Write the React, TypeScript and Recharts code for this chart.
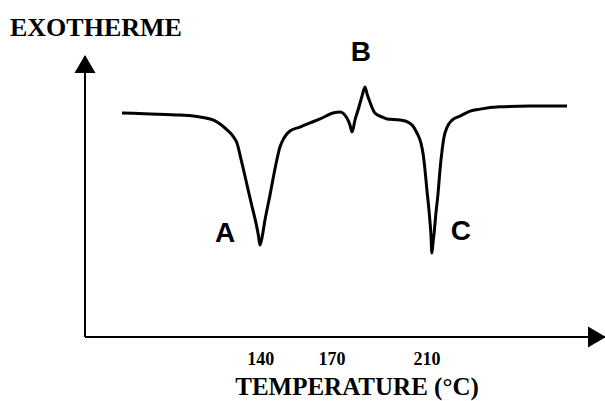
import React from 'react';
import { LineChart, Line, XAxis, YAxis, ReferenceDot } from 'recharts';

// DSC thermogram: temperature (°C) vs heat flow (arbitrary units, exotherm up)
const temperatures = [
  81.6, 93.4, 106.0, 114.4, 120.8, 125.8, 128.3, 130.0, 131.7, 133.0, 134.6, 136.3, 138.0, 139.0,
  139.7, 140.5, 141.8, 143.9, 146.0, 148.1, 149.8, 152.3, 156.5, 160.8, 165.0, 170.4, 173.4, 176.3,
  177.6, 178.5, 179.7, 181.0, 182.7, 183.9, 184.8, 186.0, 188.1, 191.1, 193.2, 198.7, 202.0, 204.1,
  205.8, 207.5, 208.4, 209.2, 210.0, 210.9, 211.7, 212.1, 212.6, 213.0, 213.8, 214.7, 215.5, 216.4,
  217.2, 218.5, 220.6, 223.9, 228.2, 232.4, 240.8, 253.4, 269.0,
];
const heatFlow = [
  79.7, 79.4, 79.0, 78.3, 76.9, 73.7, 71.5, 69.0, 63.3, 58.7, 52.7, 46.6, 40.6, 36.3,
  32.7, 35.2, 41.6, 50.5, 59.8, 67.6, 70.8, 73.3, 74.7, 76.2, 77.6, 79.7, 80.1, 77.9,
  75.4, 73.0, 77.2, 80.8, 85.8, 89.0, 86.5, 83.6, 79.7, 78.3, 77.6, 77.2, 76.5, 75.1,
  72.6, 69.0, 65.1, 59.4, 52.3, 44.8, 36.3, 29.9, 33.8, 36.7, 44.1, 51.2, 59.4, 66.5,
  71.2, 74.7, 77.2, 78.6, 80.4, 81.1, 81.9, 82.2, 82.2,
];
const xTicks = [140, 170, 210];
const xDomain = [66, 285];
const yDomain = [0, 100];

// Peak annotations
const peakNames = ['A', 'B', 'C'];
const peakTemps = [139.7, 183.9, 212.1];
const peakValues = [32.7, 89.0, 29.9];
const peakLabelDx = [-35, -4, 29];
const peakLabelDy = [-13, -35, -22];

const data = temperatures.map((t, i) => ({ t, v: heatFlow[i] }));

const SERIF = "'Liberation Serif', 'Times New Roman', Times, serif";
const SANS = "'Liberation Sans', Arial, Helvetica, sans-serif";

const XTick = (props: any) => {
  const { x, y, payload } = props;
  return (
    <text x={x} y={y + 28} textAnchor="middle" fontFamily={SERIF} fontWeight="bold" fontSize={18} fill="#000">
      {payload.value}
    </text>
  );
};

export default function App() {
  return (
    <div style={{ position: 'absolute', left: 0, top: 0 }}>
      <LineChart width={605} height={401} data={data} margin={{ top: 56, right: 0, bottom: 0, left: 84 }}>
        <defs>
          <marker
            id="arrowHead"
            markerWidth={18}
            markerHeight={21}
            refX={17}
            refY={10.5}
            orient="auto-start-reverse"
            markerUnits="userSpaceOnUse"
            style={{ overflow: 'visible' }}
          >
            <path d="M0,0 L18,10.5 L0,21 Z" fill="#000" />
          </marker>
        </defs>
        <XAxis
          type="number"
          dataKey="t"
          domain={xDomain}
          ticks={xTicks}
          allowDataOverflow
          height={64}
          tickLine={false}
          tickSize={0}
          tickMargin={0}
          tick={<XTick />}
          axisLine={{ stroke: '#000', strokeWidth: 2, markerEnd: 'url(#arrowHead)' } as any}
          label={{
            content: (p: any) => {
              const vb = p.viewBox;
              return (
                <text
                  x={vb.x + vb.width / 2 + 12}
                  y={vb.y + 58}
                  textAnchor="middle"
                  fontFamily={SERIF}
                  fontWeight="bold"
                  fontSize={25}
                  fill="#000"
                >
                  TEMPERATURE (°C)
                </text>
              );
            },
          } as any}
        />
        <YAxis
          type="number"
          domain={yDomain}
          width={1}
          tick={false}
          tickLine={false}
          axisLine={{ stroke: '#000', strokeWidth: 2, markerStart: 'url(#arrowHead)' } as any}
          label={{
            content: (p: any) => {
              const vb = p.viewBox;
              return (
                <text x={vb.x - 74} y={vb.y - 20} fontFamily={SERIF} fontWeight="bold" fontSize={26} fill="#000">
                  EXOTHERME
                </text>
              );
            },
          } as any}
        />
        <Line
          type="monotone"
          dataKey="v"
          stroke="#000"
          strokeWidth={3}
          dot={false}
          activeDot={false}
          isAnimationActive={false}
        />
        {peakNames.map((name, i) => (
          <ReferenceDot
            key={name}
            x={peakTemps[i]}
            y={peakValues[i]}
            r={0}
            shape={(p: any) => (
              <text
                x={p.cx + peakLabelDx[i]}
                y={p.cy + peakLabelDy[i]}
                textAnchor="middle"
                dominantBaseline="central"
                fontFamily={SANS}
                fontWeight="bold"
                fontSize={28}
                fill="#000"
              >
                {name}
              </text>
            )}
          />
        ))}
      </LineChart>
    </div>
  );
}
